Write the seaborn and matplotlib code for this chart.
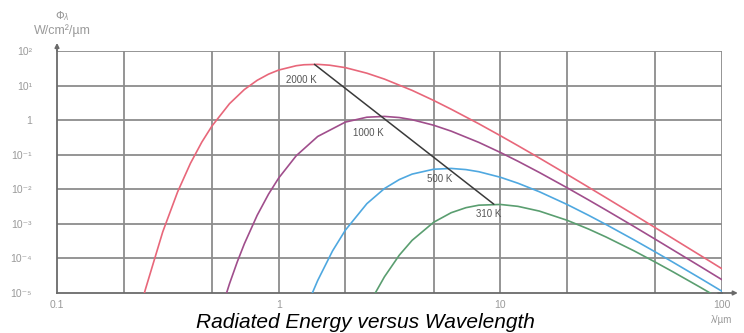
import numpy as np
import pandas as pd
import matplotlib
matplotlib.use("Agg")
import matplotlib.pyplot as plt
import seaborn as sns

# ---- data ----
temps = ["2000 K", "1000 K", "500 K", "310 K"]

wl_2000 = [0.24, 0.25, 0.3, 0.35, 0.4, 0.45, 0.5, 0.6, 0.7, 0.8, 0.9, 1.0, 1.2, 1.3, 1.5, 1.7,
           2, 2.5, 3, 4, 5, 6, 8, 10, 12, 15, 20, 25, 30, 40, 50, 60, 80, 100]
m_2000 = [4.5e-6, 1.22e-5, 5.9e-4, 8.4e-3, 0.0565, 0.231, 0.675, 2.99, 7.67, 14.2, 21.4, 28.1,
          37.5, 40.0, 41.1, 38.8, 33.0, 22.8, 15.4, 7.26, 3.72, 2.07, 0.784, 0.355, 0.183,
          0.0802, 0.0270, 0.01148, 5.68e-3, 1.856e-3, 7.73e-4, 3.78e-4, 1.215e-4, 5.02e-5]

wl_1000 = [0.55, 0.6, 0.65, 0.7, 0.8, 0.9, 1.0, 1.2, 1.5, 2, 2.5, 3, 3.5, 4, 5, 6, 8, 10, 12,
           15, 20, 25, 30, 40, 50, 60, 80, 100]
m_1000 = [3.2e-6, 1.85e-5, 7.85e-5, 2.64e-4, 1.77e-3, 7.23e-3, 0.0211, 0.0933, 0.337, 0.879,
          1.216, 1.282, 1.189, 1.030, 0.713, 0.481, 0.227, 0.1164, 0.0649, 0.0306, 0.01109,
          4.92e-3, 2.50e-3, 8.45e-4, 3.59e-4, 1.77e-4, 5.80e-5, 2.42e-5]

wl_500 = [1.4, 1.5, 1.75, 2, 2.5, 3, 3.5, 4, 5, 6, 7, 8, 10, 12, 15, 20, 25, 30, 40, 50, 60,
          80, 100]
m_500 = [8.2e-6, 2.30e-5, 1.65e-4, 6.59e-4, 3.84e-3, 0.0105, 0.0191, 0.0275, 0.0380, 0.0401,
         0.0371, 0.0322, 0.0223, 0.0150, 8.49e-3, 3.64e-3, 1.77e-3, 9.55e-4, 3.47e-4, 1.54e-4,
         7.82e-5, 2.64e-5, 1.12e-5]

wl_310 = [2.7, 3, 3.5, 4, 5, 6, 7, 8, 10, 12, 15, 20, 25, 30, 40, 50, 60, 80, 100]
m_310 = [8.9e-6, 2.94e-5, 1.24e-4, 3.34e-4, 1.11e-3, 2.10e-3, 2.94e-3, 3.47e-3, 3.64e-3,
         3.21e-3, 2.34e-3, 1.27e-3, 7.08e-4, 4.16e-4, 1.67e-4, 7.82e-5, 4.12e-5, 1.45e-5, 6.3e-6]

wien_wl = [1.45, 9.35]
wien_m = [41.2, 3.7e-3]

x_grid = [0.2, 0.5, 1, 2, 5, 10, 20, 50, 100]
x_ticks = [0.1, 1, 10, 100]
x_ticklabels = ["0.1", "1", "10", "100"]
y_ticks = [1e2, 1e1, 1, 1e-1, 1e-2, 1e-3, 1e-4, 1e-5]
y_ticklabels = ["10²", "10¹", "1", "10⁻¹", "10⁻²", "10⁻³", "10⁻⁴", "10⁻⁵"]

colors = ["#e8677a", "#a04e8c", "#4fa8e0", "#5a9e70"]

df = pd.concat([
    pd.DataFrame({"wl": w, "M": m, "T": t})
    for w, m, t in zip([wl_2000, wl_1000, wl_500, wl_310],
                       [m_2000, m_1000, m_500, m_310], temps)
], ignore_index=True)
wien = pd.DataFrame({"wl": wien_wl, "M": wien_m})

sns.set_style("white")
plt.rcParams["font.family"] = ["Liberation Sans", "DejaVu Sans"]

fig = plt.figure(figsize=(7.44, 3.33), dpi=100)
ax = fig.add_axes([57 / 744, 1 - 293 / 333, (722 - 57) / 744, (293 - 51) / 333])

ax.set_xscale("log")
ax.set_yscale("log")
ax.set_xlim(0.1, 100)
ax.set_ylim(1e-5, 1e2)

grid_c = "#8c8c8c"
for xv in x_grid:
    ax.axvline(xv, color=grid_c, lw=1.3, zorder=1)
for yv in y_ticks[:-1]:
    ax.axhline(yv, color=grid_c, lw=1.3, zorder=1)

sns.lineplot(data=df, x="wl", y="M", hue="T", hue_order=temps, palette=colors,
             estimator=None, sort=False, lw=1.2, legend=False, ax=ax, zorder=3)
sns.lineplot(data=wien, x="wl", y="M", color="#3a3a3a", lw=1.1, estimator=None,
             legend=False, ax=ax, zorder=4)

# curve labels
lab_pos = [(1.27, 14.4), (2.55, 0.42), (5.35, 0.02), (8.9, 1.95e-3)]
for (lx, ly), t in zip(lab_pos, temps):
    ax.text(lx, ly, t, fontsize=7, color="#555555", ha="center", va="center", zorder=5)

for s in ["top", "right"]:
    ax.spines[s].set_visible(False)
for s in ["left", "bottom"]:
    ax.spines[s].set_color("#6a6a6a")
    ax.spines[s].set_linewidth(1.3)

ax.set_xticks(x_ticks)
ax.set_xticklabels(x_ticklabels)
ax.set_yticks(y_ticks)
ax.set_yticklabels(y_ticklabels)
ax.minorticks_off()
ax.tick_params(axis="both", length=0, labelsize=7.5, labelcolor="#9a9a9a")
ax.tick_params(axis="x", pad=5)
ax.tick_params(axis="y", pad=18)
ax.set_xlabel("")
ax.set_ylabel("")

# axis arrows
ax.annotate("", xy=(0, 1.045), xytext=(0, 0.99), xycoords="axes fraction",
            arrowprops=dict(arrowstyle="-|>", color="#6a6a6a", lw=1.3, mutation_scale=6),
            annotation_clip=False)
ax.annotate("", xy=(1.028, 0), xytext=(0.99, 0), xycoords="axes fraction",
            arrowprops=dict(arrowstyle="-|>", color="#6a6a6a", lw=1.3, mutation_scale=6),
            annotation_clip=False)

fig.text(62 / 744, 1 - 16 / 333, "Φ$_λ$", fontsize=8, color="#9a9a9a", ha="center", va="center",
         family="DejaVu Sans")
fig.text(62 / 744, 1 - 31 / 333, "W/cm²/µm", fontsize=9, color="#9a9a9a", ha="center", va="center")
fig.text(722 / 744, 1 - 320 / 333, "λ/µm", fontsize=7, color="#9a9a9a", ha="center", va="center")

fig.text(365 / 744, 1 - 328.5 / 333, "Radiated Energy versus Wavelength", fontsize=15,
         style="italic", color="black", ha="center", va="baseline")

fig.savefig("out.png", dpi=100)
